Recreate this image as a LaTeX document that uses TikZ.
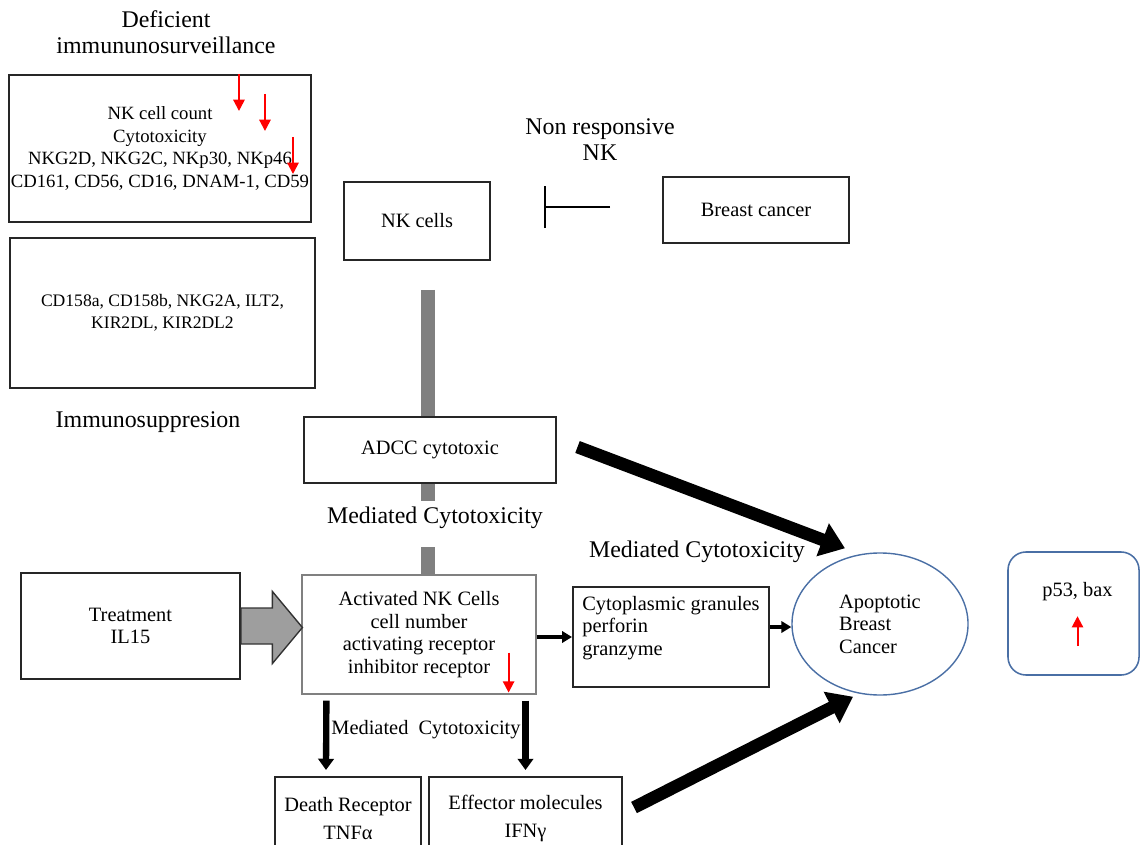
\documentclass[tikz,border=0pt]{standalone}
\usepackage{fontspec}
\setmainfont{Liberation Serif}
\usetikzlibrary{arrows.meta,calc,shapes.geometric}
\definecolor{rimblue}{HTML}{4A6FA5}

\begin{document}
\begin{tikzpicture}[x=0.025cm, y=-0.025cm,
        box/.style={draw=black!85, line width=1.4pt, align=center, inner sep=0pt,
                    font=\fontsize{14.5}{16}\selectfont},
        lbl/.style={align=center, font=\fontsize{17}{18.5}\selectfont},
        graybar/.style={draw=gray, line width=10.5pt},
        fatarr/.style={line width=9pt, -{Triangle[length=17pt,width=24pt]}},
        dnarr/.style={line width=4.5pt, -{Triangle[length=8pt,width=11pt]}},
        thinarr/.style={line width=2.5pt, -{Triangle[length=7pt,width=8pt]}},
        redarr/.style={draw=red, line width=1.4pt, -{Triangle[length=8pt,width=8pt]}},
        inhib/.style={line width=1.5pt, -{Bar[width=30pt]}},
        bigarrow/.style={fill=black!38, draw=black!80, line width=1pt}]
        \useasboundingbox (0,0) rectangle (1141,845);

        \node[lbl] (defl) at (166,32) {Deficient\\immununosurveillance};
        \node[box, minimum width=7.55cm, minimum height=3.675cm, font=\fontsize{13.3}{16.1}\selectfont]
                (def) at (160,148.5) {NK cell count\\Cytotoxicity\\NKG2D, NKG2C, NKp30, NKp46\\CD161, CD56, CD16, DNAM-1, CD59};
        \foreach \dx/\dy in {231/0, 257/20, 285/63}
                \draw[redarr] ($(def.north west)+(\dx,\dy)$) -- ++(0,37);
        \node[box, minimum width=7.625cm, minimum height=3.75cm, font=\fontsize{12.5}{15.6}\selectfont]
                (sup) at (162.5,313) {CD158a, CD158b, NKG2A, ILT2,\\KIR2DL, KIR2DL2};
        \node[lbl] (supl) at (148,422) {Immunosuppresion};

        \node[lbl] (nonr) at (600,140) {Non responsive\\NK};
        \node[box, minimum width=3.65cm, minimum height=1.95cm] (nk) at (417,221) {NK cells};
        \node[box, minimum width=4.65cm, minimum height=1.65cm] (bc) at (756,210) {Breast cancer};
        \coordinate (inh) at ($(bc.west)+(-52,-3)$);
        \draw[inhib] (inh) -- ++(-66,0);

        \node[box, minimum width=6.275cm, minimum height=1.65cm] (adcc) at (430,450) {ADCC cytotoxic};
        \coordinate (bar) at (428,290);
        \draw[graybar] (bar) -- (bar |- adcc.north);
        \draw[graybar] (bar |- adcc.south) -- ++(0,17);
        \node[lbl] (medl) at (435,518) {Mediated Cytotoxicity};
        \node[lbl] (medr) at (697,552) {Mediated Cytotoxicity};

        \node[box, minimum width=5.475cm, minimum height=2.65cm] (treat) at (130.5,626) {Treatment\\IL15};
        \node[box, draw=gray, line width=0.8pt, minimum width=5.85cm, minimum height=2.975cm]
                (act) at (419,634.5) {Activated NK Cells\\cell number\\activating receptor\\inhibitor receptor};
        \draw[graybar] (bar |- 0,547) -- (bar |- act.north);
        \coordinate (tip) at ($(act.west)+(1,-7)$);
        \draw[bigarrow] ($(treat.east)+(0,-18)$) -| ($(tip)+(-30,-36)$) -- (tip)
                -- ($(tip)+(-30,36)$) |- ($(treat.east)+(0,18)$) -- cycle;
        \draw[redarr] ($(act.south east)+(-28,-42)$) -- ++(0,40);

        \node[box, minimum width=4.9cm, minimum height=2.5cm, align=left]
                (cyto) at (671,637) {Cytoplasmic granules\\perforin\\granzyme\\\mbox{}};
        \node[draw=rimblue, line width=1pt, ellipse, minimum width=4.4cm, minimum height=3.55cm,
                inner sep=0pt, align=left, font=\fontsize{14.5}{16}\selectfont]
                (ell) at (880,624) {Apoptotic\\Breast\\Cancer};
        \draw[thinarr] (act.east |- cyto.west) -- (cyto.west);
        \draw[thinarr] ($(cyto.east)+(0,-10)$) -- ($(ell.west)+(0,3)$);

        \node[box, minimum width=3.65cm, minimum height=2.075cm, font=\fontsize{14.5}{20.5}\selectfont]
                (dr) at (348,818.5) {Death Receptor\\TNFα};
        \node[box, minimum width=4.825cm, minimum height=2.075cm, font=\fontsize{14.5}{20.5}\selectfont]
                (eff) at (525.5,818.5) {Effector molecules\\IFNγ};
        \draw[dnarr] ($(act.south west)+(25,6)$) -- ($(dr.north west)+(52,-6)$);
        \draw[dnarr] ($(act.south -| eff)+(0,6)$) -- ($(eff.north)+(0,-6)$);
        \node[font=\fontsize{14.5}{16}\selectfont] (medc) at (426,730) {Mediated~ Cytotoxicity};

        \draw[fatarr] ($(adcc.east)+(21,-3)$) -- ($(ell.north)+(-35,-4)$);
        \draw[fatarr] ($(eff.east)+(11,-11)$) -- ($(ell.south)+(-27,1)$);

        \node[draw=rimblue, line width=1.1pt, rounded corners=0.45cm, minimum width=3.275cm,
                minimum height=3.075cm] (p53) at (1073.5,613.5) {};
        \node[font=\fontsize{14.5}{16}\selectfont] (p53t) at ($(p53.north)+(4,40)$) {p53, bax};
        \draw[redarr] ($(p53t)+(0,55)$) -- ++(0,-30);
\end{tikzpicture}
\end{document}
